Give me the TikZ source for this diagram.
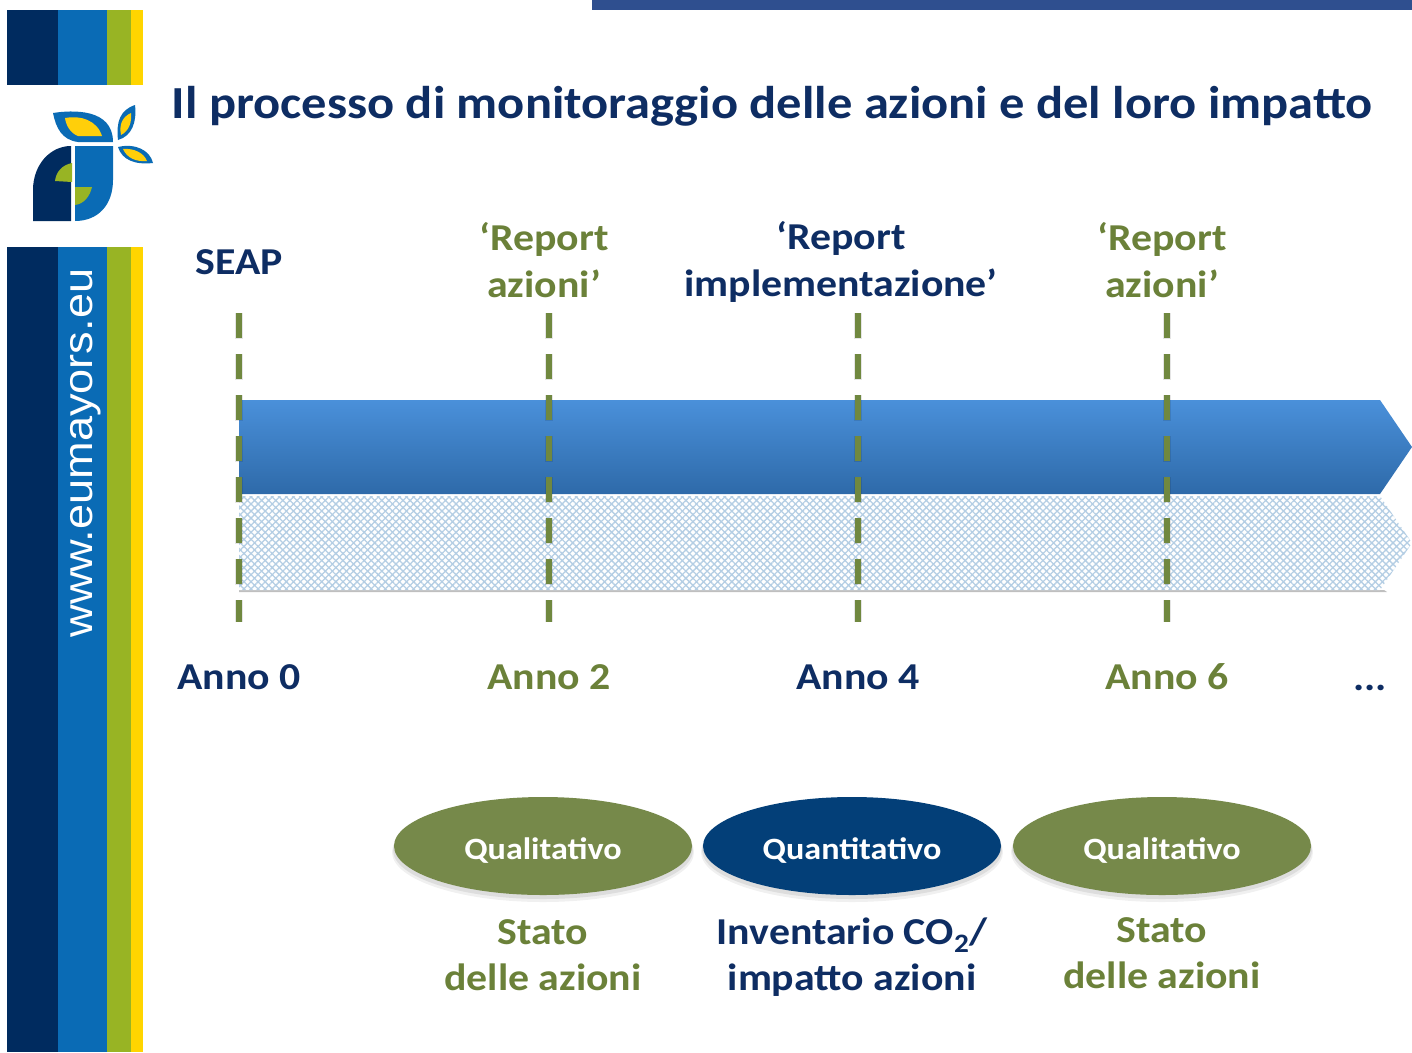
\documentclass[tikz,border=0pt]{standalone}
\usepackage{fontspec}
\setmainfont[FakeStretch=1.1]{Carlito}
\newfontfamily\urlfont[FakeStretch=1.1]{Liberation Sans}
\usetikzlibrary{patterns,patterns.meta,shapes.geometric,calc}
\definecolor{navy}{HTML}{002B5F}
\definecolor{stripeblue}{HTML}{0A6BB5}
\definecolor{stripegreen}{HTML}{98B424}
\definecolor{stripeyellow}{HTML}{FFD500}
\definecolor{topbar}{HTML}{2F4F8F}
\definecolor{txtnavy}{HTML}{0E2D63}
\definecolor{txtgreen}{HTML}{6B8139}
\definecolor{dashgreen}{HTML}{70883F}
\definecolor{ellgreen}{HTML}{76894A}
\definecolor{ellnavy}{HTML}{033F78}
\definecolor{logoyellow}{HTML}{FFCF0A}
\definecolor{arrowtop}{HTML}{4A90DA}
\definecolor{arrowbot}{HTML}{2E6AA9}
\definecolor{hatchline}{HTML}{B4CEE4}
\tikzset{
  x=1pt,y=-1pt,
  heading/.style={font=\fontsize{45.9}{50}\selectfont\bfseries,text=txtnavy,anchor=base west,inner sep=0pt},
  lab/.style={font=\fontsize{38}{46.5}\selectfont\bfseries,align=center,inner sep=0pt},
  labnavy/.style={lab,text=txtnavy},
  labgreen/.style={lab,text=txtgreen},
  marker/.style={draw=dashgreen,line width=6pt,dash pattern=on 25pt off 16pt},
  markershade/.style={draw=black,opacity=.10,line width=8pt,dash pattern=on 26pt off 15pt},
  oval/.style={ellipse,minimum width=298pt,minimum height=98pt,inner sep=0pt,text=white,font=\fontsize{31}{34}\selectfont\bfseries},
}
\begin{document}
\begin{tikzpicture}
\useasboundingbox (0,0) rectangle (1412,1052);
\fill[white] (0,0) rectangle (1412,1052);
% top bar
\fill[topbar] (592,0) rectangle (1412,10);
% stripes
\foreach \ya/\yb in {10/85,247/1052}{
  \fill[navy] (7,\ya) rectangle (58,\yb);
  \fill[stripeblue] (58,\ya) rectangle (107,\yb);
  \fill[stripegreen] (107,\ya) rectangle (131,\yb);
  \fill[stripeyellow] (131,\ya) rectangle (143,\yb);
}
\node[rotate=90,text=white,font=\fontsize{41}{44}\selectfont\urlfont,inner sep=0pt] (url) at (86,453) {www.eumayors.eu};
% logo
\fill[stripeblue] (53,113) .. controls (72,110) and (113,108) .. (113,142) -- (78,142) .. controls (62,140) and (56,128) .. (53,113) -- cycle;
\fill[logoyellow] (65,118) .. controls (80,115) and (97,120) .. (102,136) -- (78,136) .. controls (70,133) and (66,125) .. (65,118) -- cycle;
\fill[stripeblue] (118,140) .. controls (116,122) and (120,110) .. (135,105) .. controls (137,122) and (132,136) .. (118,140) -- cycle;
\fill[logoyellow] (121,135) .. controls (119,125) and (122,117) .. (131,113) .. controls (132,122) and (129,131) .. (121,135) -- cycle;
\fill[stripeblue] (118,147) .. controls (135,143) and (150,150) .. (153,163) .. controls (135,165) and (122,160) .. (118,147) -- cycle;
\fill[logoyellow] (123,149) .. controls (134,148) and (144,153) .. (147,161) .. controls (136,162) and (127,158) .. (123,149) -- cycle;
\fill[navy] (33,221) -- (33,190) .. controls (33,165) and (50,146) .. (71,146) -- (71,221) -- cycle;
\fill[stripeblue] (75,146) -- (113,146) -- (113,180) .. controls (113,205) and (98,221) .. (75,221) -- cycle;
\fill[stripegreen] (72,163) .. controls (62,165) and (56,172) .. (55,181) -- (72,182) -- cycle;
\fill[stripegreen] (75,187) -- (92,187) .. controls (90,196) and (84,204) .. (75,205) -- cycle;
% title
\node[heading] (title) at (171.5,118) {Il processo di monitoraggio delle azioni e del loro impatto};
% arrows
\fill[black,opacity=.25] (239,590) -- (1384,590) -- (1387,592) -- (239,592) -- cycle;
\fill[white] (239,496) -- (1380,496) -- (1412,543) -- (1380,590) -- (239,590) -- cycle;
\fill[pattern={Hatch[distance=5pt,angle=45,line width=1.3pt]},pattern color=hatchline] (239,496) -- (1380,496) -- (1412,543) -- (1380,590) -- (239,590) -- cycle;
\shade[top color=arrowtop,bottom color=arrowbot] (239,400) -- (1380,400) -- (1412,447) -- (1380,494) -- (239,494) -- cycle;
% markers
\foreach \n/\x in {a/239,b/549,c/858,d/1167}{
  \coordinate (\n top) at (\x,313);
  \coordinate (\n bot) at (\x,622);
  \draw[markershade] (\n top) -- (\n bot);
  \draw[marker] (\n top) -- (\n bot);
}
% labels
\node[labnavy] (seap) at (239,262) {SEAP};
\node[labgreen] (r1) at (544,260) {‘Report\\azioni’};
\node[labnavy] (r2) at (841,262) {‘Report\\implementazione’};
\node[labgreen] (r3) at (1162,260) {‘Report\\azioni’};
\node[labnavy,anchor=base] (y0) at (239,689) {Anno 0};
\node[labgreen,anchor=base] (y2) at (549,689) {Anno 2};
\node[labnavy,anchor=base] (y4) at (858,689) {Anno 4};
\node[labgreen,anchor=base] (y6) at (1167,689) {Anno 6};
\node[labnavy,anchor=base] (more) at (1370,690) {...};
% ovals
\foreach \n/\x/\c/\t in {o1/543/ellgreen/Qualitativo,o2/852/ellnavy/Quantitativo,o3/1162/ellgreen/Qualitativo}{
  \fill[black,opacity=.06] (\x,852) ellipse (151pt and 50pt);
  \fill[black,opacity=.08] (\x,850) ellipse (150pt and 49pt);
  \node[oval,fill=\c] (\n) at (\x,846) {\raisebox{-13pt}[0pt][0pt]{\t}};
}
\node[labgreen] (s1) at (543,955) {Stato\\delle azioni};
\node[labnavy] (s2) at (852,957) {Inventario CO\textsubscript{2}/\\impatto azioni};
\node[labgreen] (s3) at (1162,953) {Stato\\delle azioni};
\end{tikzpicture}
\end{document}
